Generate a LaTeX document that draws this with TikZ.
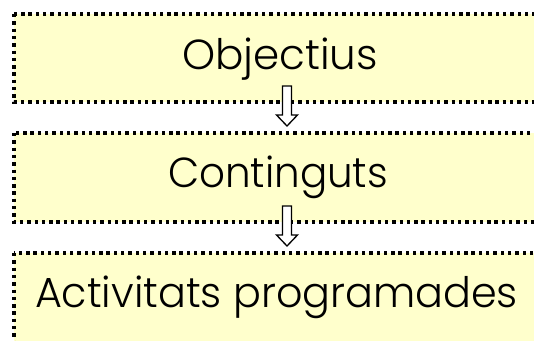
\documentclass[tikz,border=0pt]{standalone}
\usepackage{fontspec}
\setmainfont{Poppins Light}
\usepackage{graphicx}
\definecolor{boxfill}{HTML}{FFFFCC}
\tikzset{
  dotbox/.style={draw=black, fill=boxfill, line width=3.4pt, dash pattern=on 3.4pt off 3.9pt, line cap=butt},
  boxtext/.style={anchor=base, inner sep=0pt, font=\fontsize{42}{48}\selectfont},
  blockarrow/.style={draw=black, fill=white, line width=1.3pt, line join=miter}
}
\begin{document}
\begin{tikzpicture}[x=1pt,y=-1pt]
\clip (0,0) rectangle (534,340);
\fill[white] (0,0) rectangle (534,340);
% boxes
\draw[dotbox] (14,14) rectangle (570,102);
\draw[dotbox] (14,133) rectangle (570,222);
\draw[dotbox] (14,253) rectangle (570,380);
% texts
\node[boxtext] (t1) at (280,69) {\resizebox{196pt}{\height}{Objectius}};
\node[boxtext] (t2) at (278,187) {\resizebox{220pt}{\height}{Continguts}};
\node[boxtext] (t3) at (276.5,307) {\resizebox{483pt}{\height}{Activitats programades}};
% arrows
\coordinate (a1) at (287,86);
\coordinate (a2) at (287,206);
\foreach \a in {a1,a2}{
  \draw[blockarrow] (\a) ++(-4.5,0) -- ++(0,29) -- ++(-6,0) -- ++(10.5,11) -- ++(10.5,-11) -- ++(-6,0) -- ++(0,-29) -- cycle;
}
\end{tikzpicture}
\end{document}
